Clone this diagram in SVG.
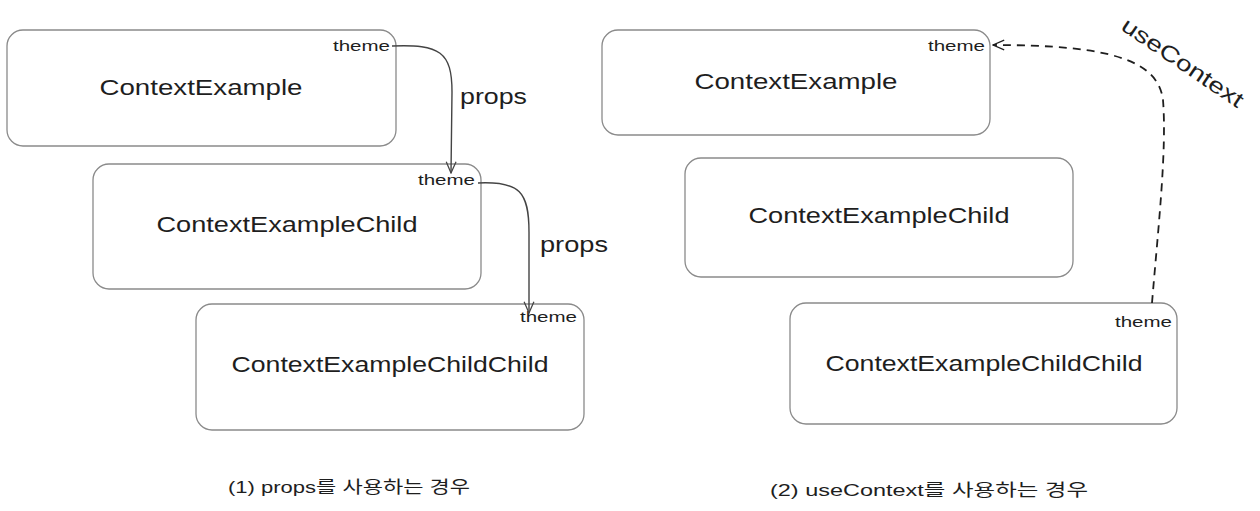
<svg xmlns="http://www.w3.org/2000/svg" width="1260" height="511" viewBox="0 0 1260 511">
<defs>
<style>
.box{fill:#fff;stroke:#8a8a8a;stroke-width:1.3}
.t{font-family:"Liberation Sans","Noto Sans CJK KR",sans-serif;fill:#1e1e1e}
.big{font-size:22px}
.sm{font-size:15px}
.lbl{font-size:22px}
.cap{font-size:17px}
.conn{fill:none;stroke:#444;stroke-width:1.4}
.dash{fill:none;stroke:#1e1e1e;stroke-width:1.8;stroke-dasharray:8 6}
</style>
<marker id="ah" viewBox="0 0 20 20" refX="18" refY="10" markerWidth="14" markerHeight="14" markerUnits="userSpaceOnUse" orient="auto">
<path d="M2,3 L18,10 L2,17" fill="none" stroke="#444" stroke-width="1.8"/>
</marker>
<marker id="ah2" viewBox="0 0 20 20" refX="18" refY="10" markerWidth="14" markerHeight="14" markerUnits="userSpaceOnUse" orient="auto">
<path d="M2,3 L18,10 L2,17" fill="none" stroke="#1e1e1e" stroke-width="1.8"/>
</marker>
</defs>
<rect width="1260" height="511" fill="#fff"/>

<g id="left-contextexample">
<rect class="box" x="7" y="30" width="389" height="116" rx="16"/>
<text class="t big" x="201" y="95" text-anchor="middle" textLength="203" lengthAdjust="spacingAndGlyphs">ContextExample</text>
<text class="t sm" x="333" y="51" textLength="57" lengthAdjust="spacingAndGlyphs">theme</text>
</g>
<g id="left-contextexamplechild">
<rect class="box" x="93" y="164" width="388" height="125" rx="16"/>
<text class="t big" x="287" y="232" text-anchor="middle" textLength="261" lengthAdjust="spacingAndGlyphs">ContextExampleChild</text>
<text class="t sm" x="418" y="185" textLength="57" lengthAdjust="spacingAndGlyphs">theme</text>
</g>
<g id="left-contextexamplechildchild">
<rect class="box" x="196" y="304" width="388" height="126" rx="16"/>
<text class="t big" x="390" y="372" text-anchor="middle" textLength="317" lengthAdjust="spacingAndGlyphs">ContextExampleChildChild</text>
<text class="t sm" x="520" y="322" textLength="57" lengthAdjust="spacingAndGlyphs">theme</text>
</g>

<g id="right-contextexample">
<rect class="box" x="602" y="30" width="388" height="105" rx="16"/>
<text class="t big" x="796" y="89" text-anchor="middle" textLength="203" lengthAdjust="spacingAndGlyphs">ContextExample</text>
<text class="t sm" x="928" y="51" textLength="57" lengthAdjust="spacingAndGlyphs">theme</text>
</g>
<g id="right-contextexamplechild">
<rect class="box" x="685" y="158" width="388" height="119" rx="16"/>
<text class="t big" x="879" y="223" text-anchor="middle" textLength="261" lengthAdjust="spacingAndGlyphs">ContextExampleChild</text>
</g>
<g id="right-contextexamplechildchild">
<rect class="box" x="790" y="303" width="387" height="121" rx="16"/>
<text class="t big" x="984" y="371" text-anchor="middle" textLength="317" lengthAdjust="spacingAndGlyphs">ContextExampleChildChild</text>
<text class="t sm" x="1115" y="327" textLength="57" lengthAdjust="spacingAndGlyphs">theme</text>
</g>

<g id="connectors">
<path class="conn" d="M392,46 C440,44 452,52 452,92 L451,173" marker-end="url(#ah)"/>
<text class="t lbl" x="460" y="104" textLength="67" lengthAdjust="spacingAndGlyphs">props</text>
<path class="conn" d="M478,183 C520,181 529,192 529,232 L529,313" marker-end="url(#ah)"/>
<text class="t lbl" x="540" y="252" textLength="68" lengthAdjust="spacingAndGlyphs">props</text>
<path class="dash" d="M1152,303 C1158,230 1167,150 1163,100 C1158,60 1110,45 993,45" marker-end="url(#ah2)"/>
<text class="t lbl" x="1183" y="70" text-anchor="middle" transform="rotate(34 1183 62)" textLength="142" lengthAdjust="spacingAndGlyphs">useContext</text>
</g>

<g id="captions">
<text class="t cap" x="228" y="493" textLength="242" lengthAdjust="spacingAndGlyphs">(1) props를 사용하는 경우</text>
<text class="t cap" x="770" y="496" textLength="318" lengthAdjust="spacingAndGlyphs">(2) useContext를 사용하는 경우</text>
</g>
</svg>
